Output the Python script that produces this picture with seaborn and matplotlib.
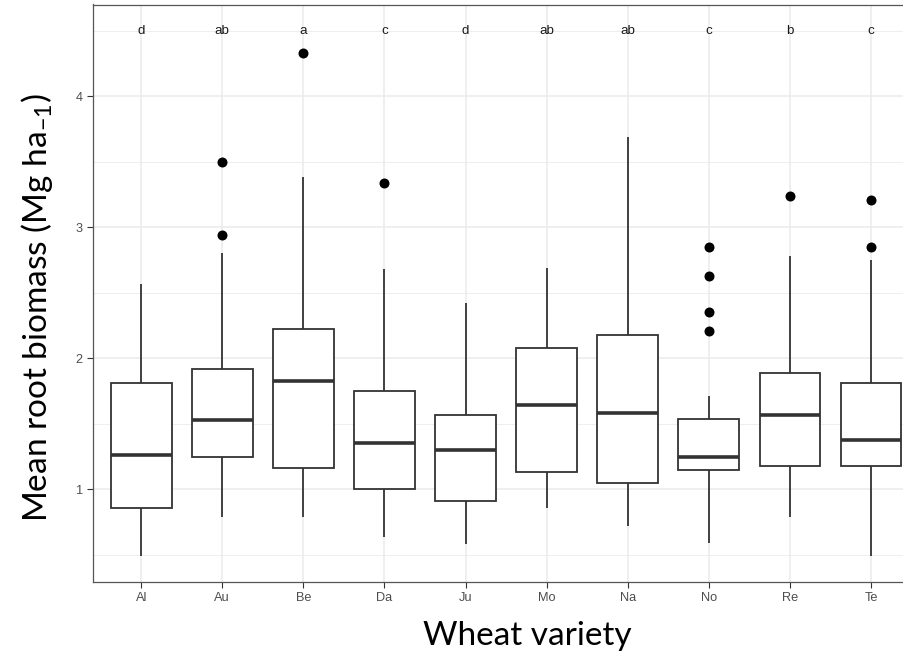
import numpy as np
import pandas as pd
import matplotlib
matplotlib.use("Agg")
import matplotlib.pyplot as plt
from matplotlib.ticker import MultipleLocator
import seaborn as sns

# Wheat varieties and their root-biomass box summaries (Mg ha-1)
varieties = ["Al", "Au", "Be", "Da", "Ju", "Mo", "Na", "No", "Re", "Te"]
whisker_low = [0.49, 0.79, 0.79, 0.64, 0.58, 0.86, 0.72, 0.59, 0.79, 0.49]
lower_quartile = [0.86, 1.25, 1.16, 1.00, 0.91, 1.13, 1.05, 1.15, 1.18, 1.18]
median = [1.26, 1.53, 1.83, 1.35, 1.30, 1.64, 1.58, 1.25, 1.57, 1.38]
upper_quartile = [1.81, 1.92, 2.22, 1.75, 1.57, 2.08, 2.18, 1.54, 1.89, 1.81]
whisker_high = [2.57, 2.80, 3.38, 2.68, 2.42, 2.69, 3.69, 1.71, 2.78, 2.75]
outliers = [[], [3.50, 2.94], [4.33], [3.34], [], [], [],
            [2.85, 2.63, 2.35, 2.21], [3.24], [3.21, 2.85]]
letters = ["d", "ab", "a", "c", "d", "ab", "ab", "c", "b", "c"]
letter_y = 4.5

box_rows = []
for i, v in enumerate(varieties):
    for val in (whisker_low[i], lower_quartile[i], median[i],
                upper_quartile[i], whisker_high[i]):
        box_rows.append({"variety": v, "biomass": val})
box_df = pd.DataFrame(box_rows)

out_df = pd.DataFrame(
    [{"variety": v, "biomass": o} for v, pts in zip(varieties, outliers) for o in pts]
)

sns.set_theme(style="white")
plt.rcParams["font.family"] = ["Liberation Sans", "DejaVu Sans"]
plt.rcParams["mathtext.default"] = "regular"

fig = plt.figure(figsize=(9.04, 6.54), dpi=100)
ax = fig.add_axes([92.5 / 904, 1 - 582 / 654, 827.2 / 904, 577.5 / 654])

ax.set_facecolor("white")
ax.set_axisbelow(True)

sns.boxplot(data=box_df, x="variety", y="biomass", order=varieties,
            color="white", saturation=1, linecolor="#333333", linewidth=1.3,
            width=0.75, whis=np.inf, showfliers=False, showcaps=False,
            medianprops={"linewidth": 2.6, "color": "#333333"}, ax=ax)

sns.stripplot(data=out_df, x="variety", y="biomass", order=varieties,
              jitter=False, color="black", size=7.2, linewidth=0, ax=ax)

for i, lab in enumerate(letters):
    ax.text(i, letter_y, lab, ha="center", va="center", fontsize=9.6,
            color="#1a1a1a")

ax.set_xlim(-0.6, len(varieties) - 0.4)
ax.set_ylim(0.293, 4.70)
ax.yaxis.set_major_locator(MultipleLocator(1))
ax.yaxis.set_minor_locator(MultipleLocator(0.5))
ax.set_yticks([1, 2, 3, 4])

ax.grid(True, which="major", color="#EBEBEB", linewidth=1.1)
ax.yaxis.grid(True, which="minor", color="#EBEBEB", linewidth=0.6)
ax.xaxis.grid(True, which="major", color="#EBEBEB", linewidth=1.1)

ax.tick_params(axis="both", which="major", direction="out", length=4,
               width=0.8, color="#333333", labelcolor="#4D4D4D",
               labelsize=9.2, pad=3, bottom=True, left=True)
ax.tick_params(axis="y", which="minor", length=0)

for side in ["left", "bottom", "top", "right"]:
    ax.spines[side].set_visible(True)
    ax.spines[side].set_color("#555555")
    ax.spines[side].set_linewidth(0.9)

ax.set_xlabel("")
ax.set_ylabel("")

fig.text(527 / 904, 1 - 645 / 654, "Wheat variety", ha="center", va="baseline",
         fontsize=24, family=["Lato", "DejaVu Sans"], color="black")
fig.text(47 / 904, 1 - 308 / 654, "Mean root biomass (Mg ha$_{-1}$)",
         ha="center", va="baseline", rotation=90, rotation_mode="anchor",
         fontsize=24, family=["Lato", "DejaVu Sans"], color="black")

fig.savefig("out.png", dpi=100)
